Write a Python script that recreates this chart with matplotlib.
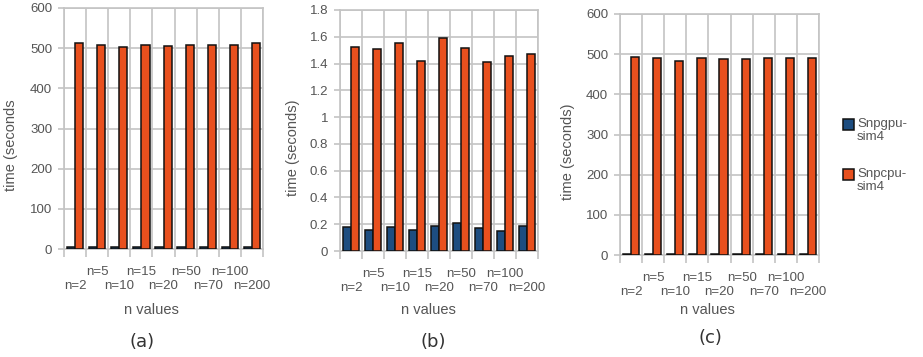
import matplotlib
matplotlib.use("Agg")
import matplotlib.pyplot as plt
import numpy as np
from matplotlib.patches import Rectangle

# data
n_labels = ["n=2", "n=5", "n=10", "n=15", "n=20", "n=50", "n=70", "n=100", "n=200"]

gpu_a = [4, 4, 4, 4, 4, 4, 4, 4, 4]
cpu_a = [512, 509, 503, 509, 506, 509, 509, 509, 512]

gpu_b = [0.18, 0.16, 0.18, 0.16, 0.19, 0.21, 0.17, 0.15, 0.19]
cpu_b = [1.525, 1.505, 1.555, 1.42, 1.59, 1.515, 1.41, 1.46, 1.47]

gpu_c = [1.5, 1.5, 1.5, 1.5, 1.5, 1.5, 1.5, 1.5, 1.5]
cpu_c = [493, 490, 484, 490, 488, 488, 490, 490, 490]

yticks_a = [0, 100, 200, 300, 400, 500, 600]
yticks_b = [0, 0.2, 0.4, 0.6, 0.8, 1, 1.2, 1.4, 1.6, 1.8]
yticks_b_lab = ["0", "0.2", "0.4", "0.6", "0.8", "1", "1.2", "1.4", "1.6", "1.8"]

legend_names = ["Snpgpu-\nsim4", "Snpcpu-\nsim4"]

BLUE = "#1d4d80"
ORANGE = "#e8501e"
TXT = "#555555"
GRID = "#c4c4c4"

plt.rcParams["font.family"] = ["Liberation Sans", "DejaVu Sans"]
plt.rcParams["font.size"] = 9.5

fig = plt.figure(figsize=(9.23, 3.57), dpi=100)
W, H = 923, 357


def panel(left, right, top, bottom, gpu, cpu, yt, ytl, ylab, ylab_x, sub, sub_xy, nv_x):
    ax = fig.add_axes([left / W, 1 - bottom / H, (right - left) / W, (bottom - top) / H])
    x = np.arange(len(n_labels))
    w = 0.37
    ax.bar(x - w, gpu, w, align="edge", color=BLUE, edgecolor="#111111", linewidth=1.1, zorder=3)
    ax.bar(x, cpu, w, align="edge", color=ORANGE, edgecolor="#111111", linewidth=1.1, zorder=3)
    ax.set_xlim(-0.5, len(n_labels) - 0.5)
    ax.set_ylim(yt[0], yt[-1])
    ax.set_yticks(yt)
    ax.set_yticklabels(ytl)
    ax.set_xticks([])
    ax.set_xticks(np.arange(len(n_labels) + 1) - 0.5, minor=True)
    ax.tick_params(axis="x", which="minor", length=6, color=GRID, width=1.2)
    ax.tick_params(axis="y", length=4.5, color=GRID, width=1.2, labelcolor=TXT, pad=4)
    ax.grid(True, which="minor", axis="x", color=GRID, linewidth=1.2, zorder=0)
    ax.grid(True, which="major", axis="y", color=GRID, linewidth=1.2, zorder=0)
    for s in ax.spines.values():
        s.set_color(GRID)
        s.set_linewidth(1.2)
    ax.set_axisbelow(True)
    # staggered category labels
    h = bottom - top
    for i, s in enumerate(n_labels):
        yy = -37 / h if i % 2 == 0 else -23 / h
        ax.text(i, yy, s, transform=ax.get_xaxis_transform(), ha="center", va="center",
                color=TXT, fontsize=9.5)
    ax.set_ylabel(ylab, color=TXT, fontsize=10.5)
    ax.yaxis.set_label_coords(ylab_x, 0.43)
    fig.text(nv_x / W, 1 - 310 / H, "n values", ha="center", va="center", color=TXT, fontsize=10.5)
    fig.text(sub_xy[0] / W, 1 - sub_xy[1] / H, sub, ha="center", va="center",
             color="#333333", fontsize=13, family="DejaVu Sans")
    return ax


panel(64, 263, 8, 249, gpu_a, cpu_a, yticks_a, [str(v) for v in yticks_a],
      "time (seconds", -0.23, "(a)", (142, 342), 151)
panel(340, 538, 10, 251, gpu_b, cpu_b, yticks_b, yticks_b_lab,
      "time (seconds)", -0.20, "(b)", (433, 342), 428)
panel(620, 819, 14, 255, gpu_c, cpu_c, yticks_a, [str(v) for v in yticks_a],
      "time (seconds)", -0.225, "(c)", (710, 338), 707)

# legend
for i, (name, col) in enumerate(zip(legend_names, [BLUE, ORANGE])):
    ytop = 119 + i * 50
    fig.patches.append(Rectangle((843 / W, 1 - (ytop + 11) / H), 11 / W, 11 / H,
                                 transform=fig.transFigure, facecolor=col,
                                 edgecolor="#111111", linewidth=1.1))
    fig.text(857 / W, 1 - (ytop - 1) / H, name, ha="left", va="top", color=TXT,
             fontsize=9.5, linespacing=1.1)

fig.savefig("out.png", dpi=100, facecolor="white")
